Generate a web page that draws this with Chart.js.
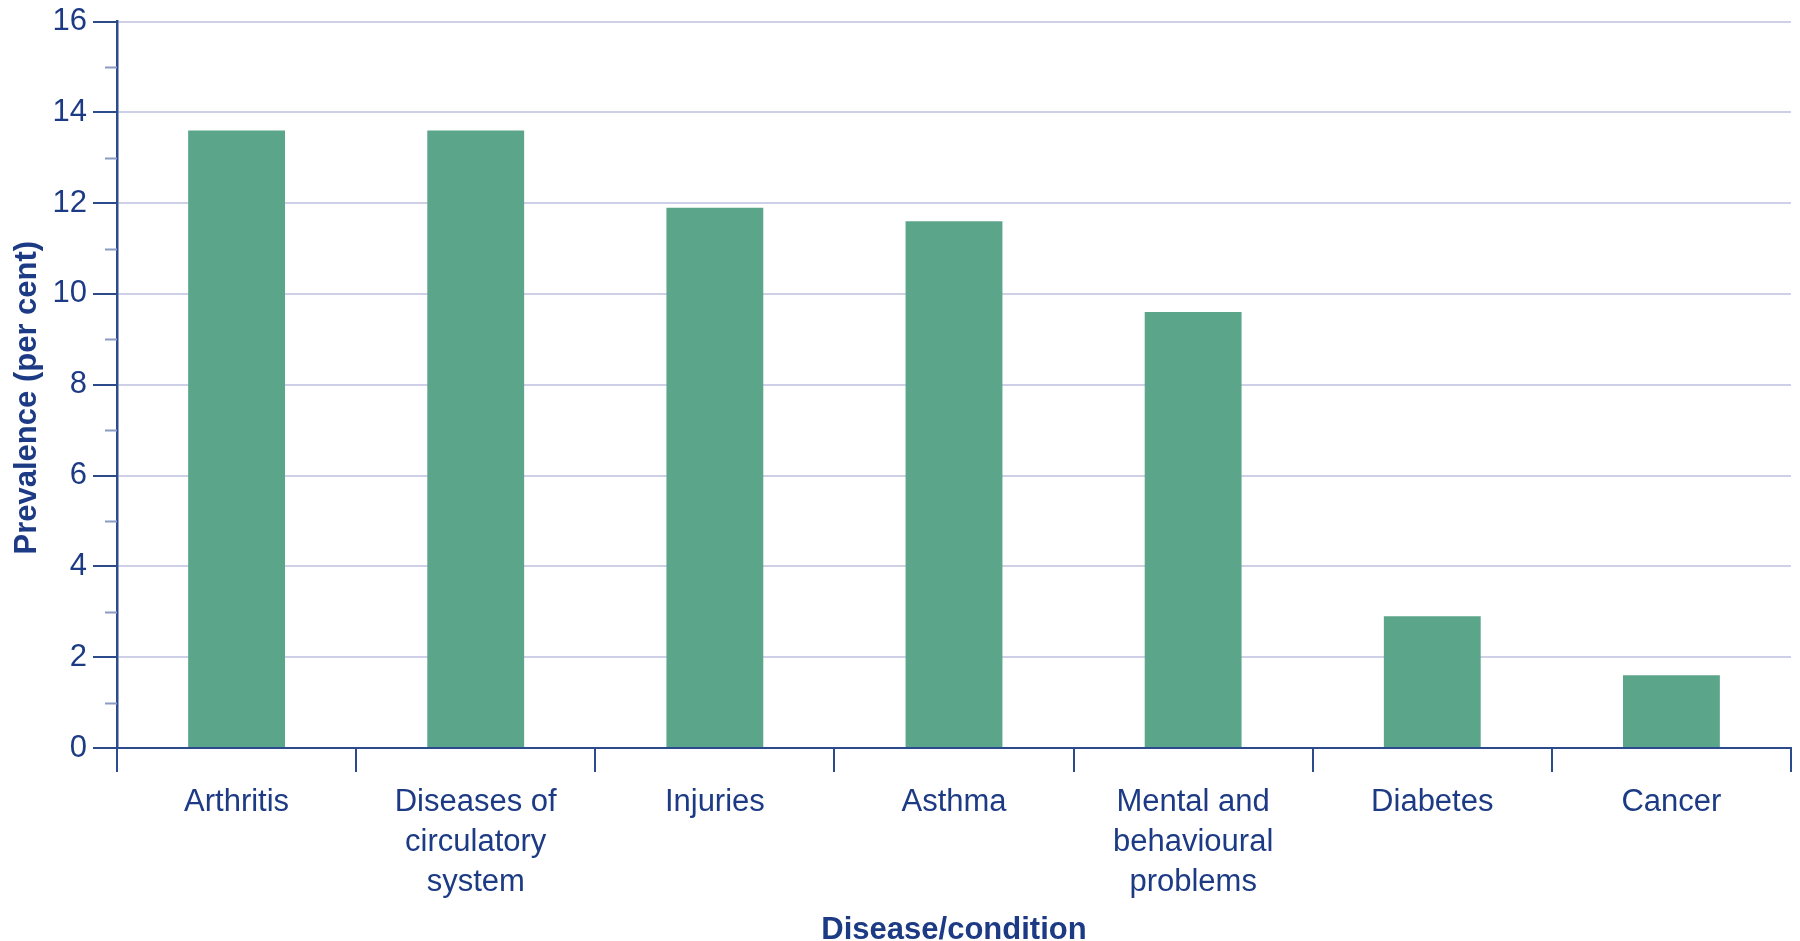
<!DOCTYPE html>
<html>
<head>
<meta charset="utf-8">
<script src="https://cdn.jsdelivr.net/npm/chart.js@4/dist/chart.umd.min.js"></script>
<style>
  html, body { margin: 0; padding: 0; background: #ffffff; }
  #wrap { width: 1800px; height: 941px; }
</style>
</head>
<body>
<div id="wrap"><canvas id="c" width="1800" height="941"></canvas></div>
<script>
const categories = [
  ['Arthritis'],
  ['Diseases of', 'circulatory', 'system'],
  ['Injuries'],
  ['Asthma'],
  ['Mental and', 'behavioural', 'problems'],
  ['Diabetes'],
  ['Cancer']
];
const prevalence = [13.6, 13.6, 11.9, 11.6, 9.6, 2.9, 1.6];
const yMin = 0;
const yMax = 16;
const yMajorStep = 2;
const yMinorTicks = [1, 3, 5, 7, 9, 11, 13, 15];
const xTitle = 'Disease/condition';
const yTitle = 'Prevalence (per cent)';

const TEXT = '#1d3b84';
const AXIS = '#2b4b8c';
const MINOR = '#8a9bc6';
const GRID = '#cdd0e6';
const BAR = '#5ba68a';
const FONT = '"Liberation Sans", Arial, Helvetica, sans-serif';

const minorTicksPlugin = {
  id: 'minorTicks',
  afterDatasetsDraw(chart) {
    const y = chart.scales.y;
    const ctx = chart.ctx;
    ctx.save();
    ctx.strokeStyle = MINOR;
    ctx.lineWidth = 2;
    yMinorTicks.forEach(v => {
      const py = Math.round(y.getPixelForValue(v)) + 0.5;
      ctx.beginPath();
      ctx.moveTo(y.right - 12, py);
      ctx.lineTo(y.right, py);
      ctx.stroke();
    });
    ctx.restore();
  }
};

new Chart(document.getElementById('c'), {
  type: 'bar',
  data: {
    labels: categories,
    datasets: [{
      data: prevalence,
      backgroundColor: BAR,
      borderWidth: 0,
      barPercentage: 0.405,
      categoryPercentage: 1.0
    }]
  },
  options: {
    responsive: false,
    animation: false,
    devicePixelRatio: 1,
    layout: { padding: { left: 0, right: 9, top: 18, bottom: 0 } },
    plugins: {
      legend: { display: false },
      tooltip: { enabled: false }
    },
    scales: {
      x: {
        offset: true,
        grid: {
          offset: true,
          drawOnChartArea: false,
          drawTicks: true,
          tickLength: 24,
          tickColor: AXIS,
          tickWidth: 2,
          color: AXIS,
          lineWidth: 2
        },
        border: { display: true, color: AXIS, width: 2 },
        ticks: {
          color: TEXT,
          font: { family: FONT, size: 31, lineHeight: 1.3 },
          padding: 10,
          maxRotation: 0,
          autoSkip: false
        },
        title: {
          display: true,
          text: xTitle,
          color: TEXT,
          font: { family: FONT, size: 31, weight: 'bold', lineHeight: 1 },
          padding: { top: 0, bottom: -5 }
        },
        afterFit(scale) { scale.height = 193; }
      },
      y: {
        min: yMin,
        max: yMax,
        ticks: {
          stepSize: yMajorStep,
          color: TEXT,
          font: { family: FONT, size: 31, lineHeight: 1 },
          padding: 6
        },
        grid: {
          color: GRID,
          lineWidth: 2,
          drawTicks: true,
          tickLength: 24,
          tickColor: AXIS,
          tickWidth: 2
        },
        border: { display: true, color: AXIS, width: 2.5 },
        title: {
          display: true,
          text: yTitle + '   ',
          color: TEXT,
          font: { family: FONT, size: 31, weight: 'bold', lineHeight: 1.2 },
          padding: { top: 9, bottom: 4 }
        },
        afterFit(scale) { scale.width = 117; }
      }
    }
  },
  plugins: [minorTicksPlugin]
});
</script>
</body>
</html>
